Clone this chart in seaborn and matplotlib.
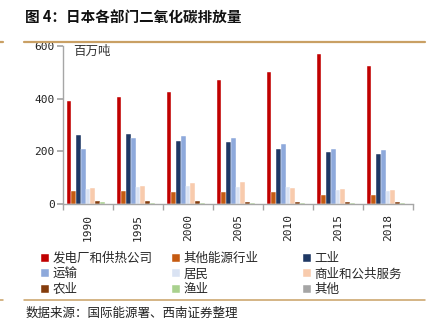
import matplotlib
matplotlib.use("Agg")
import matplotlib.pyplot as plt
import seaborn as sns
import pandas as pd
from matplotlib.lines import Line2D

years = ["1990", "1995", "2000", "2005", "2010", "2015", "2018"]
sectors = ["发电厂和供热公司", "其他能源行业", "工业", "运输", "居民",
           "商业和公共服务", "农业", "渔业", "其他"]
power = [391, 408, 424, 469, 500, 568, 525]
other_energy = [49, 50, 47, 44, 44, 36, 35]
industry = [262, 264, 238, 234, 210, 199, 190]
transport = [210, 250, 260, 252, 227, 208, 204]
residential = [56, 65, 68, 66, 63, 53, 50]
commercial = [62, 70, 78, 82, 61, 57, 52]
agriculture = [11, 11, 10, 9, 6, 6, 7]
fishery = [7, 4, 4, 3, 2, 2, 2]
others = [1, 1, 1, 1, 1, 1, 1]
colors = ["#C00000", "#C55A11", "#1F3864", "#8EA9DB", "#DAE3F3",
          "#F8CBAD", "#843C0C", "#A9D18E", "#A5A5A5"]

series = [power, other_energy, industry, transport, residential,
          commercial, agriculture, fishery, others]
rows = []
for s, vals in zip(sectors, series):
    for y, v in zip(years, vals):
        rows.append({"year": y, "sector": s, "value": v})
df = pd.DataFrame(rows)

sns.set_theme(style="white")
plt.rcParams['font.family'] = ['Noto Sans CJK SC', 'DejaVu Sans']

fig = plt.figure(figsize=(4.4, 3.33), dpi=100)
ax = fig.add_axes([63/440, 1-204/333, 350/440, 158/333])

sns.barplot(data=df, x="year", y="value", hue="sector", hue_order=sectors,
            order=years, palette=colors, width=0.86, ax=ax,
            edgecolor="white", linewidth=0.3, saturation=1)
handles, labels = ax.get_legend_handles_labels()
if ax.legend_:
    ax.legend_.remove()

ax.set_xlim(-0.5, 6.5)
ax.set_ylim(0, 600)
ax.set_xlabel("")
ax.set_ylabel("")
for sp in ["top", "right"]:
    ax.spines[sp].set_visible(False)
for sp in ["left", "bottom"]:
    ax.spines[sp].set_color("#A6A6A6")
    ax.spines[sp].set_linewidth(1.0)

ax.set_yticks([0, 200, 400, 600])
ax.tick_params(axis="y", length=4, color="#A6A6A6", left=True,
               labelsize=8, pad=2)
ax.set_xticks(range(7))
ax.set_xticklabels(years, rotation=90)
ax.tick_params(axis="x", which="major", length=0, labelsize=8, pad=7)
ax.set_xticks([i - 0.5 for i in range(8)], minor=True)
ax.tick_params(axis="x", which="minor", length=4, color="#A6A6A6", bottom=True)
for lab in ax.get_yticklabels() + ax.get_xticklabels():
    lab.set_family("DejaVu Sans Mono")
    lab.set_color("#222222")

ax.text(73/440, 1-51/333, "百万吨", transform=fig.transFigure, fontsize=9,
        color="#333333", va="center", ha="left")

# Title and decorative lines
fig.text(25/440, 1-18/333, "图 4：日本各部门二氧化碳排放量", fontsize=10.5,
         fontweight="bold", va="center", ha="left", color="#111111")
gold = "#C9A064"
fig.add_artist(Line2D([24/440, 425/440], [1-42/333, 1-42/333], color=gold, lw=1.6))
fig.add_artist(Line2D([0, 3/440], [1-42/333, 1-42/333], color=gold, lw=1.6))
fig.add_artist(Line2D([24/440, 425/440], [1-300/333, 1-300/333], color=gold, lw=1.1))
fig.add_artist(Line2D([0, 3/440], [1-300/333, 1-300/333], color=gold, lw=1.1))

# Legend: three columns
col_x = [41/440, 172/440, 303/440]
for c in range(3):
    idx = [c, c + 3, c + 6]
    fig.legend([handles[i] for i in idx], [labels[i] for i in idx],
               loc="upper left", bbox_to_anchor=(col_x[c], 1-252/333),
               frameon=False, fontsize=9, handlelength=0.6, handleheight=0.6,
               handletextpad=0.3, labelspacing=0.2, borderpad=0,
               borderaxespad=0)

fig.text(26/440, 1-313/333, "数据来源：国际能源署、西南证券整理", fontsize=9,
         style="italic", va="center", ha="left", color="#222222")

fig.savefig("out.png", dpi=100, facecolor="white")
